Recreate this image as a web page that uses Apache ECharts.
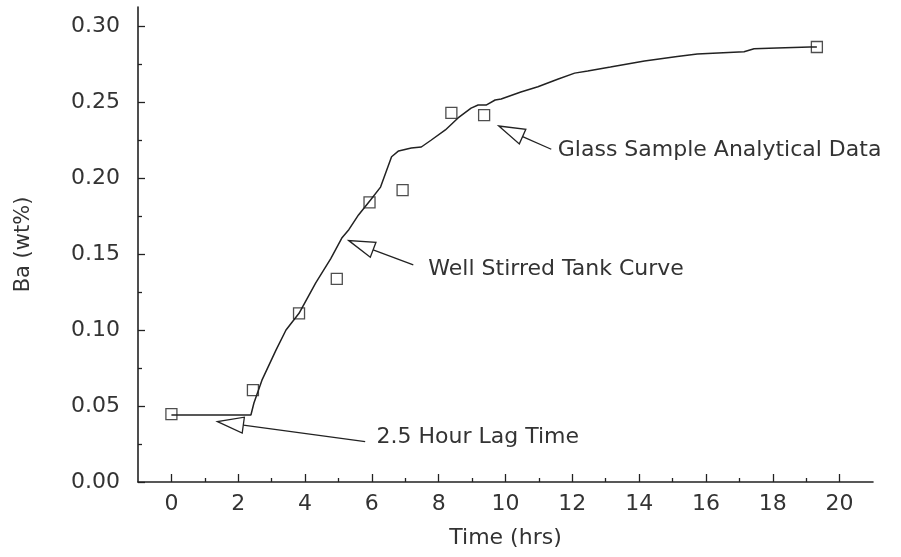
<!DOCTYPE html>
<html>
<head>
<meta charset="utf-8">
<script src="https://cdn.jsdelivr.net/npm/echarts@6/dist/echarts.min.js"></script>
<style>
  html, body { margin: 0; padding: 0; background: #fff; }
  #chart { width: 901px; height: 557px; }
</style>
</head>
<body>
<div id="chart"></div>
<script>
// Well stirred tank model: Ba concentration (wt%) versus time (hrs)
const curveTime = [0, 2.38, 2.47, 2.71, 3.13, 3.43, 3.82, 4.32, 4.77, 5.10, 5.31, 5.60, 5.96, 6.26, 6.44, 6.59, 6.80, 7.18, 7.48, 7.78, 8.20, 8.58, 8.97, 9.18, 9.42, 9.69, 9.87, 10.46, 10.97, 11.56, 12.07, 12.46, 13.14, 14.16, 15.14, 15.74, 17.14, 17.44, 18.12, 19.11, 19.32];
const curveBa   = [0.0441, 0.0441, 0.052, 0.067, 0.0868, 0.100, 0.111, 0.131, 0.147, 0.1605, 0.166, 0.1757, 0.1855, 0.194, 0.205, 0.214, 0.2178, 0.2197, 0.2204, 0.225, 0.2316, 0.2395, 0.246, 0.248, 0.248, 0.2513, 0.252, 0.2566, 0.260, 0.265, 0.269, 0.2704, 0.273, 0.277, 0.280, 0.2816, 0.283, 0.285, 0.2855, 0.2862, 0.2862];

// Glass sample analytical data
const sampleTime = [0, 2.44, 3.82, 4.95, 5.93, 6.92, 8.38, 9.36, 19.32];
const sampleBa   = [0.0447, 0.0605, 0.111, 0.1336, 0.184, 0.192, 0.2428, 0.2414, 0.2862];

// Axis tick values
const xMajorTicks = [0, 2, 4, 6, 8, 10, 12, 14, 16, 18, 20];
const xMinorTicks = [1, 3, 5, 7, 9, 11, 13, 15, 17, 19];
const yMajorTicks = [0, 0.05, 0.10, 0.15, 0.20, 0.25, 0.30];
const yMinorTicks = [0.025, 0.075, 0.125, 0.175, 0.225, 0.275];

// Callouts: label text, arrow tip, tail end and label anchor (data units)
const noteText  = ['2.5 Hour Lag Time', 'Well Stirred Tank Curve', 'Glass Sample Analytical Data'];
const noteTip   = [[1.38, 0.0397], [5.31, 0.1588], [9.80, 0.2342]];
const noteTail  = [[5.80, 0.0265], [7.24, 0.1428], [11.37, 0.2189]];
const noteLabel = [[6.14, 0.0296], [7.69, 0.1400], [11.565, 0.2180]];

const INK = '#222';
const TEXT = '#333';
const FONT = 'DejaVu Sans';
const FS = 22;

const chart = echarts.init(document.getElementById('chart'), null, { renderer: 'canvas' });

function renderNote(params, api) {
  const i = params.dataIndex;
  const tip = api.coord(noteTip[i]);
  const tail = api.coord(noteTail[i]);
  const lab = api.coord(noteLabel[i]);
  const dx = tail[0] - tip[0], dy = tail[1] - tip[1];
  const len = Math.hypot(dx, dy);
  const ux = dx / len, uy = dy / len;
  const px = -uy, py = ux;
  const head = 26, half = 8;
  const bx = tip[0] + ux * head, by = tip[1] + uy * head;
  return {
    type: 'group',
    children: [
      {
        type: 'polygon',
        shape: { points: [tip, [bx + px * half, by + py * half], [bx - px * half, by - py * half]] },
        style: { fill: '#fff', stroke: INK, lineWidth: 1.3 }
      },
      {
        type: 'line',
        shape: { x1: bx, y1: by, x2: tail[0], y2: tail[1] },
        style: { stroke: INK, lineWidth: 1.3 }
      },
      {
        type: 'text',
        x: lab[0], y: lab[1],
        style: {
          text: noteText[i], fill: TEXT, fontSize: FS, fontFamily: FONT,
          align: 'left', verticalAlign: 'middle'
        }
      }
    ]
  };
}

const xBase = {
  type: 'value', min: -1, max: 21, interval: 1,
  splitLine: { show: false },
  gridIndex: 0
};
const yBase = {
  type: 'value', min: 0, max: 0.3125,
  splitLine: { show: false },
  gridIndex: 0
};

chart.setOption({
  animation: false,
  backgroundColor: '#fff',
  grid: { left: 138, top: 7, right: 28, bottom: 75, containLabel: false },
  xAxis: [
    Object.assign({}, xBase, {
      position: 'bottom',
      name: 'Time (hrs)', nameLocation: 'middle', nameGap: 45,
      nameTextStyle: { color: TEXT, fontSize: FS, fontFamily: FONT },
      axisLine: { show: true, onZero: false, lineStyle: { color: INK, width: 1.6 } },
      axisTick: { show: true, inside: true, length: 8, lineStyle: { color: INK, width: 1.3 }, customValues: xMajorTicks },
      axisLabel: { show: true, margin: 11, color: TEXT, fontSize: FS, fontFamily: FONT, customValues: xMajorTicks }
    }),
    Object.assign({}, xBase, {
      position: 'bottom', offset: 0,
      axisLine: { show: false, onZero: false },
      axisTick: { show: true, inside: true, length: 4, lineStyle: { color: INK, width: 1.3 }, customValues: xMinorTicks },
      axisLabel: { show: false }
    })
  ],
  yAxis: [
    Object.assign({}, yBase, {
      position: 'left',
      name: 'Ba (wt%)', nameLocation: 'middle', nameGap: 104,
      nameTextStyle: { color: TEXT, fontSize: 21, fontFamily: FONT },
      axisLine: { show: true, onZero: false, lineStyle: { color: INK, width: 1.6 } },
      axisTick: { show: true, inside: true, length: 7, lineStyle: { color: INK, width: 1.3 }, customValues: yMajorTicks },
      axisLabel: {
        show: true, margin: 18, color: TEXT, fontSize: FS, fontFamily: FONT,
        customValues: yMajorTicks, formatter: v => v.toFixed(2)
      }
    }),
    Object.assign({}, yBase, {
      position: 'left', offset: 0,
      axisLine: { show: false, onZero: false },
      axisTick: { show: true, inside: true, length: 4, lineStyle: { color: INK, width: 1.3 }, customValues: yMinorTicks },
      axisLabel: { show: false }
    })
  ],
  series: [
    {
      name: 'Well Stirred Tank Curve',
      type: 'line',
      xAxisIndex: 0, yAxisIndex: 0,
      data: curveTime.map((t, i) => [t, curveBa[i]]),
      showSymbol: false, symbol: 'none',
      lineStyle: { color: INK, width: 1.5 },
      z: 3
    },
    {
      name: 'Glass Sample Analytical Data',
      type: 'scatter',
      xAxisIndex: 0, yAxisIndex: 0,
      data: sampleTime.map((t, i) => [t, sampleBa[i]]),
      symbol: 'rect', symbolSize: 11,
      itemStyle: { color: 'rgba(255,255,255,0)', borderColor: INK, borderWidth: 1.3 },
      z: 4
    },
    {
      name: 'callouts',
      type: 'custom',
      xAxisIndex: 0, yAxisIndex: 0,
      clip: false,
      data: noteTip,
      renderItem: renderNote,
      silent: true,
      z: 5
    }
  ]
});
</script>
</body>
</html>
